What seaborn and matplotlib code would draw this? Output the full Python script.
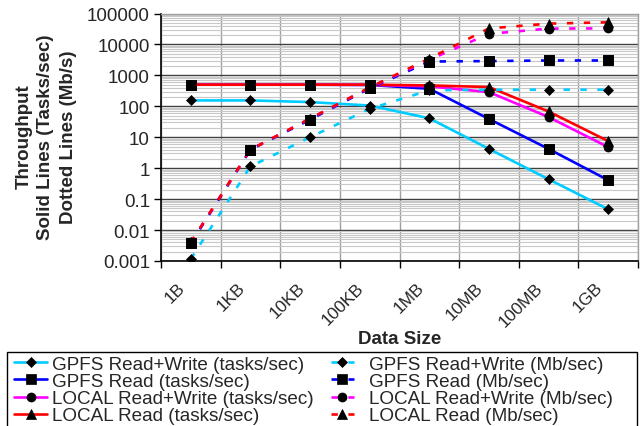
import matplotlib
matplotlib.use("Agg")
import matplotlib.pyplot as plt
import matplotlib.patches as mpatches
import matplotlib.transforms as mtransforms
from matplotlib.ticker import FixedLocator, LogLocator, FuncFormatter, NullFormatter
import seaborn as sns

sizes = ["1B", "1KB", "10KB", "100KB", "1MB", "10MB", "100MB", "1GB"]

# solid lines, tasks/sec
gpfs_rw_tasks = [155, 155, 137, 106, 41, 4.2, 0.44, 0.047]
gpfs_read_tasks = [500, 500, 500, 490, 370, 39, 4.2, 0.41]
local_rw_tasks = [500, 500, 500, 495, 440, 288, 45, 4.8]
local_read_tasks = [500, 500, 500, 500, 473, 420, 68, 7.5]

# dotted lines, Mb/s
gpfs_rw_mbps = [0.00117, 1.14, 10, 83, 330, 343, 345, 345]
gpfs_read_mbps = [0.0037, 3.95, 37, 380, 2800, 2900, 3030, 3030]
local_rw_mbps = [0.0040, 4.0, 40, 400, 3200, 22000, 32500, 33000]
local_read_mbps = [0.0040, 4.0, 40, 410, 3500, 33000, 47000, 52000]

labels = [
    "GPFS Read+Write (tasks/sec)", "GPFS Read (tasks/sec)",
    "LOCAL Read+Write (tasks/sec)", "LOCAL Read (tasks/sec)",
    "GPFS Read+Write (Mb/sec)", "GPFS Read (Mb/sec)",
    "LOCAL Read+Write (Mb/sec)", "LOCAL Read (Mb/sec)",
]
values = [gpfs_rw_tasks, gpfs_read_tasks, local_rw_tasks, local_read_tasks,
          gpfs_rw_mbps, gpfs_read_mbps, local_rw_mbps, local_read_mbps]
colors = ["#00CCFF", "#0000FF", "#FF00FF", "#FF0000"] * 2
markers = [("D", 5.5), ("s", 7), ("o", 6.5), ("^", 7)] * 2
dotted = (0, (2.4, 4))
styles = ["-"] * 4 + [dotted] * 4

sns.set_theme(style="white")
plt.rcParams["font.family"] = ["Liberation Sans", "DejaVu Sans"]

fig = plt.figure(figsize=(6.4, 4.27), dpi=100)
ax = fig.add_axes([161 / 640, 1 - 262 / 427, 477 / 640, (262 - 14.5) / 427])
ax.set_yscale("log")

for lab, vals, col, (mk, ms), ls in zip(labels, values, colors, markers, styles):
    sns.lineplot(x=sizes, y=vals, ax=ax, color=col, linestyle=ls, linewidth=1.9,
                 marker=mk, markersize=ms, markerfacecolor="black",
                 markeredgecolor="black", markeredgewidth=0.5,
                 sort=False, estimator=None, label=lab, zorder=3)

# square markers sit on top of the other markers, like in the original
for vals in [gpfs_read_tasks, gpfs_read_mbps]:
    sns.scatterplot(x=sizes, y=vals, ax=ax, marker="s", s=49, color="black",
                    edgecolor="black", linewidth=0.5, zorder=5, legend=False)

handles, labs = ax.get_legend_handles_labels()
if ax.get_legend() is not None:
    ax.get_legend().remove()

ax.set_ylim(0.001, 100000)
ax.set_xlim(-0.5, 7.5)

ax.yaxis.set_major_locator(LogLocator(base=10, numticks=20))
ax.yaxis.set_minor_locator(LogLocator(base=10, subs=range(2, 10), numticks=20))
ax.yaxis.set_major_formatter(FuncFormatter(lambda v, p: "{:g}".format(v)))
ax.yaxis.set_minor_formatter(NullFormatter())
ax.grid(True, which="minor", axis="y", color="#c8c8c8", linewidth=0.8)
ax.grid(True, which="major", axis="y", color="#404040", linewidth=1.0)

ax.set_xticks(range(len(sizes)))
ax.set_xticklabels(sizes)
ax.xaxis.set_minor_locator(FixedLocator([i - 0.5 for i in range(len(sizes) + 1)]))
ax.grid(True, which="minor", axis="x", color="#a0a0a0", linewidth=1.0)
ax.set_axisbelow(True)

ax.tick_params(axis="y", which="major", direction="out", length=5, width=1,
               color="black", labelsize=13.5, pad=3, left=True)
ax.tick_params(axis="y", which="minor", length=0)
ax.tick_params(axis="x", which="major", length=0, labelsize=12.5, pad=17)
ax.tick_params(axis="x", which="minor", direction="out", length=5, width=1,
               color="black", bottom=True)
offset = mtransforms.ScaledTranslation(-8 / 100, 0, fig.dpi_scale_trans)
for t in ax.get_xticklabels():
    t.set_rotation(45)
    t.set_ha("right")
    t.set_va("center")
    t.set_rotation_mode("anchor")
    t.set_transform(t.get_transform() + offset)

for side in ["left", "bottom"]:
    ax.spines[side].set_color("black")
    ax.spines[side].set_linewidth(1.2)
for side in ["top", "right"]:
    ax.spines[side].set_color("#a0a0a0")
    ax.spines[side].set_linewidth(1.0)

ax.set_xlabel("Data Size", fontsize=13.5, fontweight="bold")
ax.xaxis.set_label_coords(0.5, -(331 - 262) / 247.5)
ax.set_ylabel("")
fig.text(46 / 640, 1 - 137 / 427,
         "Throughput\nSolid Lines (Tasks/sec)\nDotted Lines (Mb/s)",
         rotation=90, ha="center", va="center", fontsize=13.5,
         fontweight="bold", linespacing=1.4)

# legend: two columns with their own handle widths, one shared frame
top = 1 - 356.5 / 427
leg1 = fig.legend(handles[:4], labs[:4], loc="upper left",
                  bbox_to_anchor=(14 / 640, top), frameon=False, fontsize=13.6,
                  handlelength=1.75, handletextpad=0.25, labelspacing=0.0,
                  borderpad=0, borderaxespad=0)
leg2 = fig.legend(handles[4:], labs[4:], loc="upper left",
                  bbox_to_anchor=(331 / 640, top), frameon=False, fontsize=13.6,
                  handlelength=1.2, handletextpad=0.8, labelspacing=0.0,
                  borderpad=0, borderaxespad=0)
frame = mpatches.Rectangle((6.7 / 640, -0.05), 630 / 640, 1 - 352.7 / 427 + 0.05,
                           transform=fig.transFigure, fill=False,
                           edgecolor="black", linewidth=1.0)
fig.add_artist(frame)

fig.savefig("out.png", dpi=100)
